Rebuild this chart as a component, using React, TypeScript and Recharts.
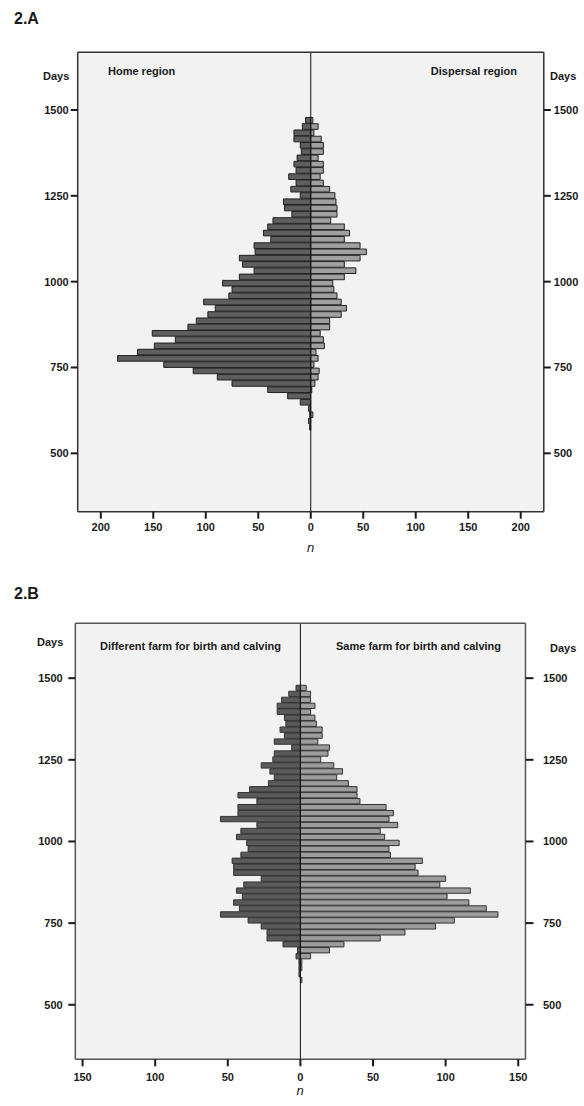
import React from 'react';
import { BarChart, Bar, XAxis, YAxis, CartesianGrid, ReferenceLine } from 'recharts';

// bin midpoints (days), top bin first
const dayBins = [
  1469.1, 1450.9, 1432.6, 1414.4, 1396.1, 1377.9, 1359.6, 1341.4, 1323.1, 1304.9,
  1286.6, 1268.4, 1250.1, 1231.9, 1213.6, 1195.4, 1177.1, 1158.9, 1140.6, 1122.4,
  1104.1, 1085.9, 1067.6, 1049.4, 1031.1, 1012.9, 994.6, 976.4, 958.1, 939.9,
  921.6, 903.4, 885.1, 866.9, 848.6, 830.4, 812.1, 793.9, 775.6, 757.4,
  739.1, 720.9, 702.6, 684.4, 666.1, 647.9, 629.6, 611.4, 593.1, 574.9,
];
const binWidth = 18.25;

// 2.A
const homeRegion = [
  5, 8, 16, 16, 10, 9, 13, 16, 14, 21,
  14, 19, 10, 26, 25, 18, 36, 41, 45, 38,
  54, 53, 68, 65, 54, 68, 84, 75, 78, 102,
  91, 98, 109, 117, 151, 129, 149, 165, 184, 140,
  112, 89, 75, 41, 22, 10, 2, 1, 2, 1,
];
const dispersalRegion = [
  2, 7, 3, 10, 12, 12, 7, 12, 12, 9,
  12, 18, 23, 24, 25, 25, 19, 32, 37, 32,
  47, 53, 47, 32, 43, 32, 21, 22, 25, 29,
  34, 29, 18, 18, 9, 12, 13, 5, 7, 3,
  8, 7, 4, 1, 0, 0, 0, 2, 0, 0,
];

// 2.B
const differentFarm = [
  3, 8, 13, 16, 16, 11, 10, 14, 11, 18,
  6, 18, 19, 27, 21, 18, 22, 35, 43, 30,
  43, 43, 55, 30, 41, 44, 37, 36, 41, 47,
  46, 46, 27, 39, 44, 40, 46, 42, 55, 36,
  27, 23, 23, 12, 2, 3, 1, 1, 1, 0,
];
const sameFarm = [
  4, 7, 7, 10, 7, 10, 11, 15, 15, 12,
  20, 19, 14, 23, 29, 25, 33, 39, 39, 41,
  59, 64, 61, 67, 55, 58, 68, 61, 62, 84,
  79, 81, 100, 96, 117, 101, 116, 128, 136, 106,
  93, 72, 55, 30, 20, 7, 1, 1, 0, 1,
];

const dayTicks = [500, 750, 1000, 1250, 1500];
const countTicksA = [-200, -150, -100, -50, 0, 50, 100, 150, 200];
const countTicksB = [-150, -100, -50, 0, 50, 100, 150];

const font = "'Liberation Sans', Arial, Helvetica, sans-serif";
const tickStyle = { fill: '#1a1a1a', fontSize: 11, fontWeight: 700, fontFamily: font };

function Txt({ x, y, right, children, size = 11, italic = false, weight = 700, center = false }: any) {
  const style: React.CSSProperties = {
    position: 'absolute',
    top: y - 8,
    lineHeight: '16px',
    fontSize: size,
    fontWeight: weight,
    fontStyle: italic ? 'italic' : 'normal',
    fontFamily: font,
    color: '#1a1a1a',
    whiteSpace: 'nowrap',
  };
  if (center) {
    style.left = x - 50;
    style.width = 100;
    style.textAlign = 'center';
  } else if (right != null) {
    style.right = 584 - right;
  } else {
    style.left = x;
  }
  return <div style={style}>{children}</div>;
}

function Pyramid({ left, right, top, height, margin, dayDomain, countDomain, countTicks, leftFill, rightFill, edge, frame, yLeft, yRight }: any) {
  const data = dayBins.map((days, i) => ({ days, left: -left[i], right: right[i] }));
  const xAxisHeight = 30;
  const plotH = height - margin.top - margin.bottom - xAxisHeight;
  const barSize = (plotH * binWidth) / (dayDomain[1] - dayDomain[0]);
  return (
    <div style={{ position: 'absolute', left: 0, top }}>
      <BarChart
        width={584}
        height={height}
        data={data}
        layout="vertical"
        stackOffset="sign"
        margin={margin}
      >
        <CartesianGrid fill="#f2f2f2" horizontal={false} vertical={false} />
        <XAxis
          type="number"
          domain={countDomain}
          allowDataOverflow
          ticks={countTicks}
          tickFormatter={(v: number) => String(Math.abs(v))}
          height={xAxisHeight}
          tick={tickStyle}
          tickSize={7}
          tickMargin={yLeft.xMargin}
          axisLine={{ stroke: frame, strokeWidth: 1.5 }}
          tickLine={{ stroke: '#1a1a1a', strokeWidth: 2 }}
        />
        <YAxis
          yAxisId="left"
          type="number"
          dataKey="days"
          domain={dayDomain}
          allowDataOverflow
          reversed
          ticks={dayTicks}
          width={yLeft.width}
          tick={tickStyle}
          tickSize={yLeft.size}
          tickMargin={yLeft.margin}
          axisLine={{ stroke: frame, strokeWidth: 1.5 }}
          tickLine={{ stroke: '#1a1a1a', strokeWidth: 2 }}
        />
        <YAxis
          yAxisId="right"
          orientation="right"
          type="number"
          dataKey="days"
          domain={dayDomain}
          allowDataOverflow
          reversed
          ticks={dayTicks}
          width={yRight.width}
          tick={tickStyle}
          tickSize={yRight.size}
          tickMargin={yRight.margin}
          axisLine={{ stroke: frame, strokeWidth: 1.5 }}
          tickLine={{ stroke: '#1a1a1a', strokeWidth: 2 }}
        />
        <Bar yAxisId="left" dataKey="left" stackId="a" barSize={barSize} fill={leftFill} stroke={edge} strokeWidth={1} isAnimationActive={false} />
        <Bar yAxisId="left" dataKey="right" stackId="a" barSize={barSize} fill={rightFill} stroke={edge} strokeWidth={1} isAnimationActive={false} />
        <ReferenceLine yAxisId="left" x={0} stroke="#111" strokeWidth={1} />
        <ReferenceLine yAxisId="left" y={dayDomain[1]} stroke={frame} strokeWidth={1.5} />
      </BarChart>
    </div>
  );
}

export default function App() {
  return (
    <div style={{ position: 'absolute', left: 0, top: 0, width: 584, height: 1106, background: '#fff' }}>
      <Pyramid
        left={homeRegion}
        right={dispersalRegion}
        top={0}
        height={560}
        margin={{ top: 52.3, right: 0.2, bottom: 18.3, left: 37.7 }}
        dayDomain={[330, 1668]}
        countDomain={[-222, 222]}
        countTicks={countTicksA}
        leftFill="#5e5e5e"
        rightFill="#a0a0a0"
        edge="#222"
        frame="#333"
        yLeft={{ width: 40, size: 7, margin: 2, xMargin: 4 }}
        yRight={{ width: 40, size: 7, margin: 3 }}
      />
      <Pyramid
        left={differentFarm}
        right={sameFarm}
        top={560}
        height={546}
        margin={{ top: 63.3, right: 8.5, bottom: 16.7, left: 35.3 }}
        dayDomain={[333, 1668]}
        countDomain={[-155, 155]}
        countTicks={countTicksB}
        leftFill="#5a5a5a"
        rightFill="#9c9c9c"
        edge="#333"
        frame="#555"
        yLeft={{ width: 40, size: 7, margin: 5.6, xMargin: 7 }}
        yRight={{ width: 50, size: 8, margin: 9.5 }}
      />

      <Txt x={14} y={19} size={16}>2.A</Txt>
      <Txt x={108} y={71}>Home region</Txt>
      <Txt right={517} y={71}>Dispersal region</Txt>
      <Txt right={69.3} y={76}>Days</Txt>
      <Txt x={550} y={76}>Days</Txt>
      <Txt x={310.7} y={548} center italic weight={400} size={13}>n</Txt>

      <Txt x={14} y={594} size={16}>2.B</Txt>
      <Txt x={100} y={646}>Different farm for birth and calving</Txt>
      <Txt x={336} y={646}>Same farm for birth and calving</Txt>
      <Txt right={63.3} y={642}>Days</Txt>
      <Txt x={550} y={648}>Days</Txt>
      <Txt x={300} y={1091} center italic weight={400} size={13}>n</Txt>
    </div>
  );
}
